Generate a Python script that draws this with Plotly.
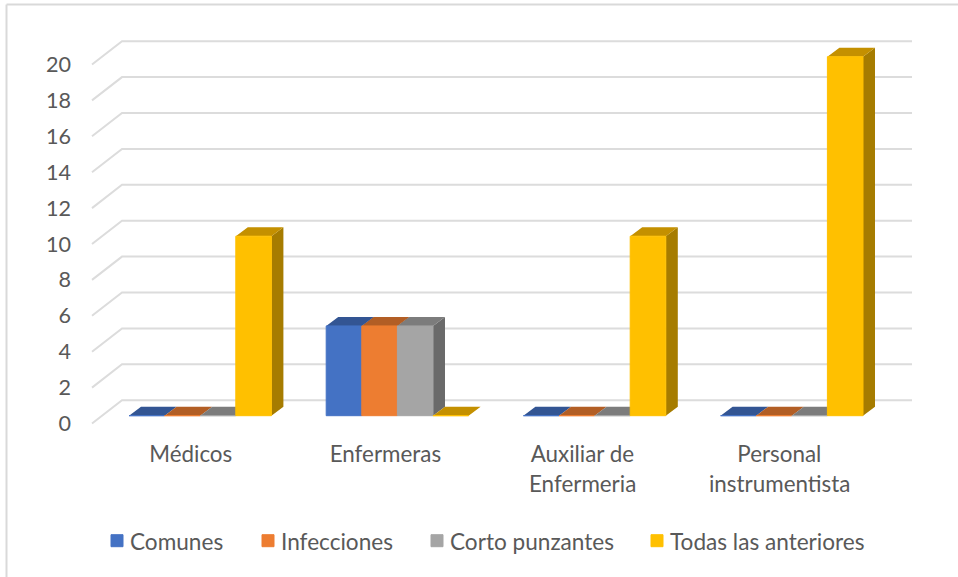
import plotly.graph_objects as go

W, H = 958, 577
categories = ["Médicos", "Enfermeras", "Auxiliar de", "Personal"]
second_line = ["", "", "Enfermeria", "instrumentista"]
series_names = ["Comunes", "Infecciones", "Corto punzantes", "Todas las anteriores"]
comunes = [0, 5, 0, 0]
infecciones = [0, 5, 0, 0]
corto_punzantes = [0, 5, 0, 0]
todas = [10, 0, 10, 20]
y_ticks = list(range(0, 21, 2))

front_colors = ["#4472C4", "#ED7D31", "#A5A5A5", "#FFC000"]
top_colors = ["#335593", "#B25E25", "#7C7C7C", "#C49000"]
side_colors = ["#2C4A80", "#8E4B1D", "#6A6A6A", "#A67C00"]
all_series = [comunes, infecciones, corto_punzantes, todas]

# scale of the two data axes, in pixels
PX_X, X0 = 197.2, 200.2
PX_Y, Y0 = 17.95, 423.5
dom_l, dom_r, dom_t, dom_b = 80, 930, 20, 436
xrange = [(dom_l - X0) / PX_X, (dom_r - X0) / PX_X]
yrange = [(Y0 - dom_b) / PX_Y, (Y0 - dom_t) / PX_Y]
base_v = (Y0 - 415.7) / PX_Y
bar_w = 35.6 / PX_X
depth_x, depth_y = 12 / PX_X, 9 / PX_Y
wall_x, wall_y = 30 / PX_X, 23.3 / PX_Y
grid_left = (92 - X0) / PX_X
grid_right = (912 - X0) / PX_X
label_shift = [-0.048, -0.061, -0.062, -0.063]

fig = go.Figure()

gx, gy = [], []
for v in y_ticks:
    gx += [grid_left, grid_left + wall_x, grid_right, None]
    gy += [v, v + wall_y, v + wall_y, None]
fig.add_trace(go.Scatter(x=gx, y=gy, mode="lines", showlegend=False, hoverinfo="skip",
                         line=dict(color="#DCDCDC", width=2)))

for s, vals in enumerate(all_series):
    tx, ty, sx, sy = [], [], [], []
    for c, v in enumerate(vals):
        left = c - 2 * bar_w + s * bar_w
        right = left + bar_w
        t = base_v + v
        tx += [left, right, right + depth_x, left + depth_x, left, None]
        ty += [t, t, t + depth_y, t + depth_y, t, None]
        if v > 0:
            sx += [right, right + depth_x, right + depth_x, right, right, None]
            sy += [t, t + depth_y, base_v + depth_y, base_v, t, None]
    fig.add_trace(go.Scatter(x=sx, y=sy, mode="lines", fill="toself", fillcolor=side_colors[s],
                             line=dict(width=0), showlegend=False, hoverinfo="skip"))
    fig.add_trace(go.Scatter(x=tx, y=ty, mode="lines", fill="toself", fillcolor=top_colors[s],
                             line=dict(width=0), showlegend=False, hoverinfo="skip"))

legend_ids = ["legend", "legend2", "legend3", "legend4"]
legend_px = [90, 241, 410, 630]
for s, vals in enumerate(all_series):
    fig.add_trace(go.Bar(x=list(range(4)), y=vals, base=base_v, name=series_names[s],
                         xaxis="x2", yaxis="y2", legend=legend_ids[s],
                         marker=dict(color=front_colors[s], line=dict(color=front_colors[s], width=1))))

font = dict(family="Lato", size=22.4, color="#595959")
legend_font = dict(family="Lato", size=22.6, color="#595959")
y_font = dict(family="Lato", size=21.6, color="#595959")
layout = dict(
    width=W, height=H, autosize=False,
    margin=dict(l=0, r=0, t=0, b=0),
    paper_bgcolor="white", plot_bgcolor="white",
    barmode="group", bargap=1 - 4 * bar_w, bargroupgap=0,
    font=font,
    xaxis=dict(domain=[dom_l / W, dom_r / W], range=xrange, showgrid=False, zeroline=False,
               showline=False, ticks="", tickmode="array",
               tickvals=[i + label_shift[i] for i in range(4)], ticktext=categories,
               tickfont=font, ticklabelstandoff=3),
    yaxis=dict(domain=[1 - dom_b / H, 1 - dom_t / H], range=yrange, showgrid=False, zeroline=False,
               showline=False, ticks="", tickmode="array", tickvals=y_ticks,
               ticktext=[str(v) for v in y_ticks], tickfont=y_font, ticklabelstandoff=8),
    xaxis2=dict(overlaying="x", range=xrange, visible=False),
    yaxis2=dict(overlaying="y", range=yrange, visible=False),
    annotations=[dict(x=i + label_shift[i], y=1 - 483 / H, xref="x", yref="paper", text=t,
                      showarrow=False, font=font, xanchor="center", yanchor="middle")
                 for i, t in enumerate(second_line) if t],
    shapes=[dict(type="line", xref="paper", yref="paper", x0=6.5 / W, x1=6.5 / W, y0=0,
                 y1=1 - 4.5 / H, line=dict(color="#D9D9D9", width=2)),
            dict(type="line", xref="paper", yref="paper", x0=6.5 / W, x1=1, y0=1 - 4.5 / H,
                 y1=1 - 4.5 / H, line=dict(color="#D9D9D9", width=2))],
)
for lid, px in zip(legend_ids, legend_px):
    layout[lid] = dict(orientation="h", x=px / W, y=1 - 541 / H, xanchor="left", yanchor="middle",
                       bgcolor="rgba(0,0,0,0)", font=legend_font, itemclick=False, itemdoubleclick=False)
fig.update_layout(**layout)
post = """
document.body.style.margin='0';
document.body.style.overflow='hidden';
function nudge(){document.querySelectorAll('.legendsymbols').forEach(function(g){g.setAttribute('transform','translate(7,0)');});}
nudge();setTimeout(nudge,0);setTimeout(nudge,100);
"""
fig.write_html("out.html", config=dict(displayModeBar=False), post_script=post)
